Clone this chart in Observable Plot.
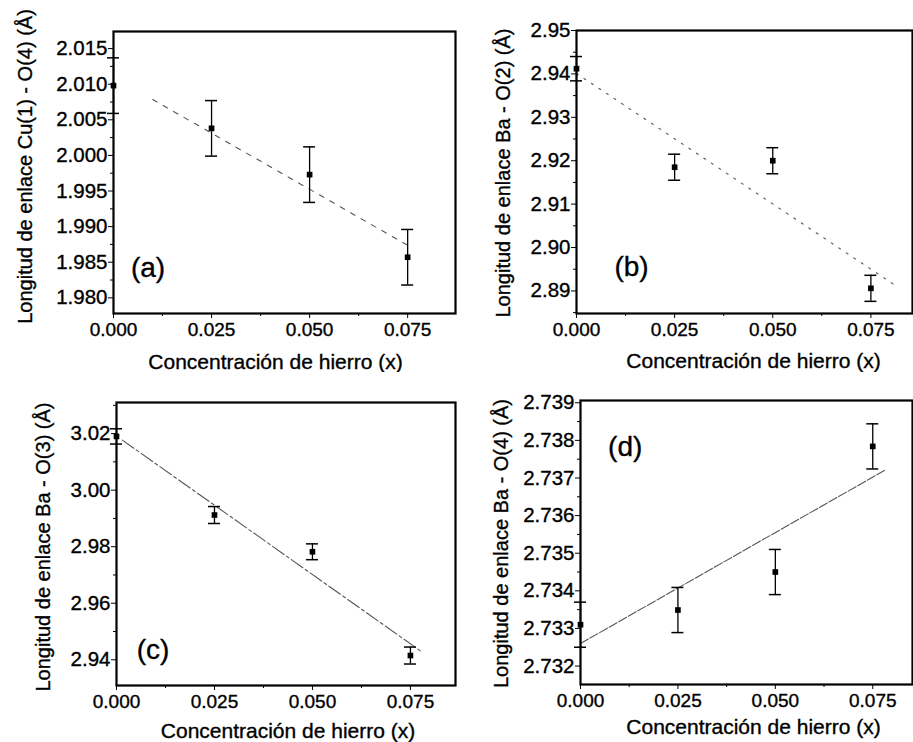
<!DOCTYPE html>
<html><head><meta charset="utf-8">
<script src="https://cdn.jsdelivr.net/npm/d3@7"></script>
<script src="https://cdn.jsdelivr.net/npm/@observablehq/plot@0.6"></script>
<style>
body{margin:0;background:#fff;}
#wrap{position:relative;width:913px;height:742px;overflow:hidden;background:#fff;}
.panel{position:absolute;}
.panel svg text{stroke:#000;stroke-width:0.35px;}
</style></head><body><div id="wrap"></div>
<script>
// Iron concentration (x)
const conc = [0, 0.025, 0.05, 0.075];
// Bond lengths (Å) and their errors
const bondA = [2.0098, 2.0038, 1.9973, 1.9857];
const errA  = [0.0039, 0.0039, 0.0039, 0.0039];
const bondB = [2.9412, 2.9185, 2.9200, 2.8906];
const errB  = [0.0028, 0.0030, 0.0030, 0.0030];
const bondC = [3.0190, 2.9912, 2.9782, 2.9415];
const errC  = [0.0027, 0.0030, 0.0028, 0.0030];
const bondD = [2.7331, 2.73349, 2.7345, 2.73784];
const errD  = [0.0006, 0.0006, 0.0006, 0.0006];
// Linear fits
const fitXA = [0.010, 0.076], fitYA = [2.00785, 1.98706];
const fitXB = [0.000, 0.081], fitYB = [2.9401, 2.8914];
const fitXC = [0.0015, 0.078], fitYC = [3.0177, 2.9427];
const fitXD = [0.000, 0.078], fitYD = [2.7326, 2.7372];
// Tick values
const xTicks = [0, 0.025, 0.05, 0.075];
const xMinor = [0.0125, 0.0375, 0.0625];
const yTicksA = [1.980, 1.985, 1.990, 1.995, 2.000, 2.005, 2.010, 2.015];
const yTicksB = [2.89, 2.90, 2.91, 2.92, 2.93, 2.94, 2.95];
const yTicksC = [2.94, 2.96, 2.98, 3.00, 3.02];
const yTicksD = [2.732, 2.733, 2.734, 2.735, 2.736, 2.737, 2.738, 2.739];
// Labels
const xLabel = "Concentración de hierro (x)";
const yLabels = ["Longitud de enlace Cu(1) - O(4) (Å)", "Longitud de enlace Ba - O(2) (Å)",
                 "Longitud de enlace Ba - O(3) (Å)", "Longitud de enlace Ba - O(4) (Å)"];
const tags = ["(a)", "(b)", "(c)", "(d)"];

const FONT = "'Liberation Sans', Arial, Helvetica, sans-serif";

function mids(t) { const m = []; for (let i = 0; i < t.length - 1; i++) m.push((t[i] + t[i+1]) / 2); return m; }

const panels = [
  {left:0, top:0, width:457, height:372, mL:113, mT:31, mR:2, mB:59,
   xDom:[0,0.0872], yDom:[1.9778,2.0174], bond:bondA, err:errA, fx:fitXA, fy:fitYA, yt:yTicksA, fmt:".3f",
   dash:"5,7", ylab:yLabels[0], ylx:-88, yly:-6, xlx:-9, xly:49, tag:tags[0], tx:34.5, ty:237},
  {left:457, top:0, width:456, height:372, mL:119, mT:30, mR:1, mB:59,
   xDom:[0,0.0856], yDom:[2.8848,2.95], bond:bondB, err:errB, fx:fitXB, fy:fitYB, yt:yTicksB, fmt:".2f",
   dash:"2,7", ylab:yLabels[1], ylx:-73, yly:1, xlx:9, xly:48, tag:tags[1], tx:55, ty:237},
  {left:0, top:372, width:457, height:370, mL:116, mT:30, mR:2, mB:57,
   xDom:[0,0.0865], yDom:[2.9309,3.031], bond:bondC, err:errC, fx:fitXC, fy:fitYC, yt:yTicksC, fmt:".2f",
   dash:"14,3,3,3", ylab:yLabels[2], ylx:-73, yly:3, xlx:2, xly:46, tag:tags[2], tx:36.5, ty:248},
  {left:457, top:372, width:456, height:370, mL:123, mT:28, mR:1, mB:58,
   xDom:[0,0.0852], yDom:[2.73151,2.73906], bond:bondD, err:errD, fx:fitXD, fy:fitYD, yt:yTicksD, fmt:".3f",
   dash:"9,2", ylab:yLabels[3], ylx:-79, yly:1, xlx:7, xly:43, tag:tags[3], tx:44.7, ty:46.7}
];

const wrap = document.getElementById("wrap");
for (const p of panels) {
  const rows = conc.map((x, i) => ({x, y: p.bond[i], lo: p.bond[i] - p.err[i], hi: p.bond[i] + p.err[i]}));
  const fit = p.fx.map((x, i) => ({x, y: p.fy[i]}));
  const yMinor = mids(p.yt).concat([p.yt[p.yt.length-1] + (p.yt[1]-p.yt[0])/2, p.yt[0] - (p.yt[1]-p.yt[0])/2])
    .filter(v => v > p.yDom[0] && v < p.yDom[1]);
  const chart = Plot.plot({
    width: p.width, height: p.height,
    marginLeft: p.mL, marginTop: p.mT, marginRight: p.mR, marginBottom: p.mB,
    style: {fontFamily: FONT, fontSize: "19px", color: "black", background: "white", overflow: "visible"},
    x: {domain: p.xDom, label: null},
    y: {domain: p.yDom, label: null},
    marks: [
      Plot.line(fit, {x: "x", y: "y", stroke: "#555", strokeWidth: 1.1, strokeDasharray: p.dash}),
      Plot.ruleX(rows, {x: "x", y1: "lo", y2: "hi", stroke: "black", strokeWidth: 1.3}),
      Plot.ruleY(rows, {y: "hi", x1: "x", x2: "x", insetLeft: -6, insetRight: -6, stroke: "black", strokeWidth: 1.5}),
      Plot.ruleY(rows, {y: "lo", x1: "x", x2: "x", insetLeft: -6, insetRight: -6, stroke: "black", strokeWidth: 1.5}),
      Plot.dot(rows, {x: "x", y: "y", symbol: "square", r: 3.2, fill: "black", stroke: "none"}),
      Plot.axisX(xTicks, {tickFormat: d3.format(".3f"), tickSize: 5, tickPadding: 4, label: null, fontSize: 19}),
      Plot.axisX(xMinor, {tickFormat: () => "", tickSize: 3, label: null}),
      Plot.axisY(p.yt, {tickFormat: d3.format(p.fmt), tickSize: 5, tickPadding: 1, label: null, fontSize: 20.5}),
      Plot.axisY(yMinor, {tickFormat: () => "", tickSize: 3, label: null}),
      Plot.frame({stroke: "black", strokeWidth: 2.2}),
      Plot.text([xLabel], {text: d => d, frameAnchor: "bottom", dx: p.xlx, dy: p.xly, lineAnchor: "middle", fontSize: 21}),
      Plot.text([p.ylab], {text: d => d, frameAnchor: "left", rotate: -90, dx: p.ylx, dy: p.yly, lineAnchor: "middle", textAnchor: "middle", fontSize: 20}),
      Plot.text([p.tag], {text: d => d, frameAnchor: "top-left", dx: p.tx, dy: p.ty, textAnchor: "middle", lineAnchor: "middle", fontSize: 28})
    ]
  });
  const div = document.createElement("div");
  div.className = "panel";
  div.style.left = p.left + "px"; div.style.top = p.top + "px";
  div.appendChild(chart);
  wrap.appendChild(div);
}
</script></body></html>
